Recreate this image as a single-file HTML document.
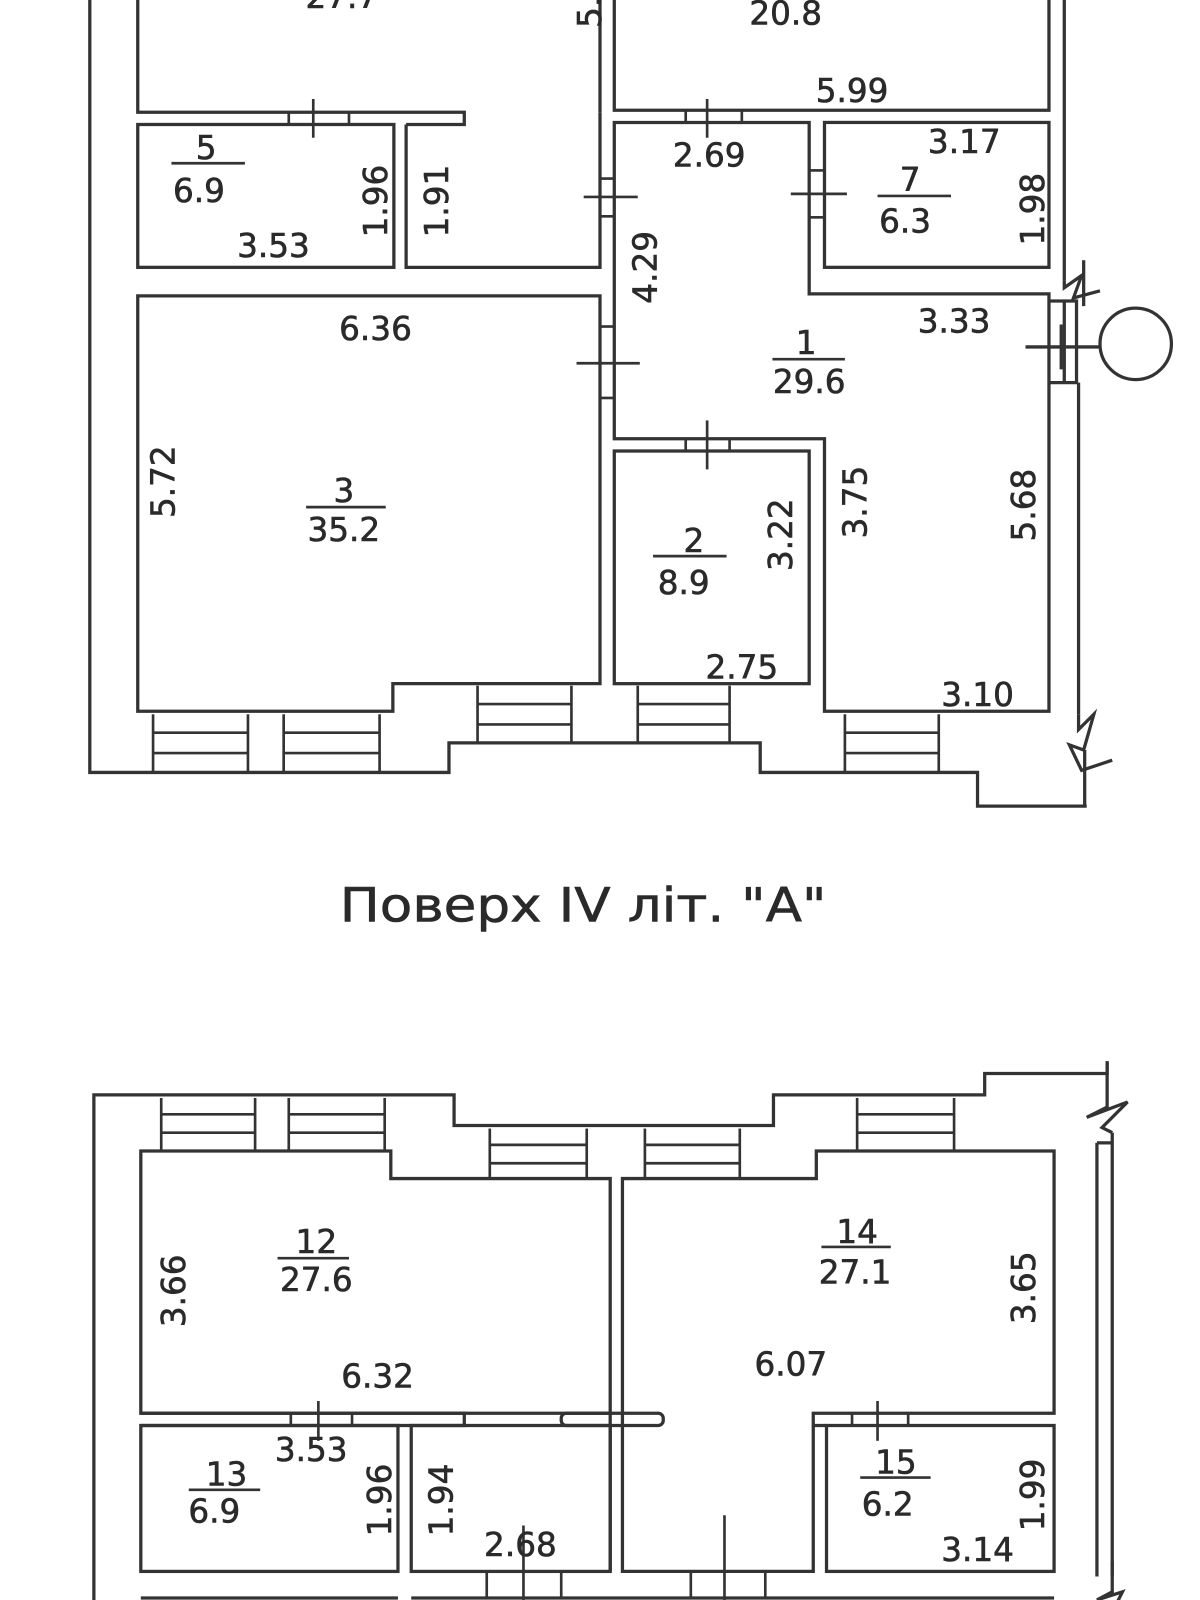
<!DOCTYPE html>
<html><head><meta charset="utf-8"><style>
html,body{margin:0;padding:0;background:#fff}
svg{display:block}
text{font-family:"DejaVu Sans","Liberation Sans",sans-serif;font-size:32px;fill:#2a2a2a;stroke:#2a2a2a;stroke-width:0.6}
.t{font-family:"DejaVu Sans","Liberation Sans",sans-serif;font-size:46px;fill:#2a2a2a;stroke:#2a2a2a;stroke-width:0.6}
</style></head><body>
<svg width="1200" height="1600" viewBox="0 0 1200 1600" xmlns="http://www.w3.org/2000/svg">
<g transform="scale(1.0204)">
<g fill="none" stroke="#333" stroke-width="3.2" stroke-linejoin="miter">
<!-- TOP PLAN -->
<polyline points="88,0 88,757 440,757 440,728 745,728 745,757 958,757 958,790 1065,790"/>
<polyline points="135,0 135,110 455,110 455,122 398,122"/>
<line x1="588" y1="0" x2="588" y2="110"/>
<polyline points="602,0 602,108 1028,108 1028,0"/>
<line x1="1043" y1="0" x2="1043" y2="275"/>
<rect x="135" y="122" width="251" height="140"/>
<polyline points="398,122 398,262 588,262 588,110"/>
<rect x="808" y="120" width="220" height="142"/>
<polygon points="602,120 793,120 793,288 1028,288 1028,697 808,697 808,430 602,430"/>
<rect x="602" y="442" width="191" height="228"/>
<polygon points="135,290 588,290 588,670 385,670 385,697 135,697"/>
<polyline points="1028,295 1055,295 1055,375 1028,375"/>
<line x1="1043" y1="295" x2="1043" y2="375"/>
<line x1="1057" y1="375" x2="1057" y2="700"/>
<polyline points="1057,700 1057,715 1072,700 1062,735 1048,730 1060,755 1090,745"/>
<line x1="1063" y1="735" x2="1063" y2="790"/>
<polyline points="1043,275 1043,282 1060,270 1052,292 1078,285"/>
<line x1="1062" y1="255" x2="1062" y2="300"/>
<circle cx="1113" cy="337" r="35"/>
<line x1="1005" y1="340" x2="1078" y2="340"/>
<line x1="1040" y1="318" x2="1040" y2="362"/>
<g stroke-width="2.6">
<line x1="150" y1="700" x2="150" y2="757"/><line x1="243" y1="700" x2="243" y2="757"/>
<line x1="150" y1="718" x2="243" y2="718"/><line x1="150" y1="738" x2="243" y2="738"/>
<line x1="278" y1="700" x2="278" y2="757"/><line x1="372" y1="700" x2="372" y2="757"/>
<line x1="278" y1="718" x2="372" y2="718"/><line x1="278" y1="738" x2="372" y2="738"/>
<line x1="468" y1="672" x2="468" y2="728"/><line x1="560" y1="672" x2="560" y2="728"/>
<line x1="468" y1="690" x2="560" y2="690"/><line x1="468" y1="710" x2="560" y2="710"/>
<line x1="625" y1="672" x2="625" y2="728"/><line x1="715" y1="672" x2="715" y2="728"/>
<line x1="625" y1="690" x2="715" y2="690"/><line x1="625" y1="710" x2="715" y2="710"/>
<line x1="828" y1="700" x2="828" y2="757"/><line x1="920" y1="700" x2="920" y2="757"/>
<line x1="828" y1="718" x2="920" y2="718"/><line x1="828" y1="738" x2="920" y2="738"/>
<line x1="307" y1="97" x2="307" y2="135"/><line x1="283" y1="110" x2="283" y2="122"/><line x1="342" y1="110" x2="342" y2="122"/>
<line x1="693" y1="97" x2="693" y2="135"/><line x1="672" y1="108" x2="672" y2="120"/><line x1="727" y1="108" x2="727" y2="120"/>
<line x1="572" y1="193" x2="625" y2="193"/><line x1="588" y1="175" x2="602" y2="175"/><line x1="588" y1="212" x2="602" y2="212"/>
<line x1="565" y1="356" x2="627" y2="356"/><line x1="588" y1="320" x2="602" y2="320"/><line x1="588" y1="390" x2="602" y2="390"/>
<line x1="775" y1="190" x2="830" y2="190"/><line x1="793" y1="167" x2="808" y2="167"/><line x1="793" y1="213" x2="808" y2="213"/>
<line x1="693" y1="412" x2="693" y2="460"/><line x1="672" y1="430" x2="672" y2="442"/><line x1="715" y1="430" x2="715" y2="442"/>
</g>
<!-- BOTTOM PLAN -->
<polyline points="92,1600 92,1073 445,1073 445,1103 758,1103 758,1073 965,1073 965,1052 1085,1052 1085,1040"/>
<polyline points="1085,1040 1085,1085 1065,1095 1105,1080 1080,1105 1090,1110"/>
<line x1="1090" y1="1110" x2="1090" y2="1545"/>
<line x1="1075" y1="1120" x2="1090" y2="1120"/>
<line x1="1075" y1="1120" x2="1075" y2="1545"/>
<polyline points="1090,1530 1090,1560 1075,1568 1100,1560 1085,1590"/>
<polygon points="138,1128 383,1128 383,1155 598,1155 598,1385 138,1385"/>
<polygon points="610,1155 800,1155 800,1128 1033,1128 1033,1385 797,1385 797,1540 610,1540"/>
<line x1="598" y1="1385" x2="598" y2="1540"/>
<polyline points="138,1385 455,1385 455,1397 138,1397"/>
<rect x="550" y="1385" width="100" height="12" rx="5"/>
<rect x="138" y="1397" width="252" height="143"/>
<rect x="403" y="1397" width="195" height="143"/>
<rect x="810" y="1397" width="223" height="143"/>
<line x1="797" y1="1397" x2="810" y2="1397"/>
<line x1="138" y1="1566" x2="390" y2="1566"/>
<line x1="403" y1="1566" x2="1033" y2="1566"/>
<g stroke-width="2.6">
<line x1="158" y1="1076" x2="158" y2="1128"/><line x1="250" y1="1076" x2="250" y2="1128"/>
<line x1="158" y1="1092" x2="250" y2="1092"/><line x1="158" y1="1110" x2="250" y2="1110"/>
<line x1="283" y1="1076" x2="283" y2="1128"/><line x1="377" y1="1076" x2="377" y2="1128"/>
<line x1="283" y1="1092" x2="377" y2="1092"/><line x1="283" y1="1110" x2="377" y2="1110"/>
<line x1="480" y1="1106" x2="480" y2="1155"/><line x1="575" y1="1106" x2="575" y2="1155"/>
<line x1="480" y1="1122" x2="575" y2="1122"/><line x1="480" y1="1140" x2="575" y2="1140"/>
<line x1="632" y1="1106" x2="632" y2="1155"/><line x1="725" y1="1106" x2="725" y2="1155"/>
<line x1="632" y1="1122" x2="725" y2="1122"/><line x1="632" y1="1140" x2="725" y2="1140"/>
<line x1="840" y1="1076" x2="840" y2="1128"/><line x1="935" y1="1076" x2="935" y2="1128"/>
<line x1="840" y1="1092" x2="935" y2="1092"/><line x1="840" y1="1110" x2="935" y2="1110"/>
<line x1="312" y1="1373" x2="312" y2="1412"/><line x1="285" y1="1385" x2="285" y2="1397"/><line x1="345" y1="1385" x2="345" y2="1397"/>
<line x1="860" y1="1373" x2="860" y2="1412"/><line x1="835" y1="1385" x2="835" y2="1397"/><line x1="890" y1="1385" x2="890" y2="1397"/>
<line x1="513" y1="1495" x2="513" y2="1600"/><line x1="477" y1="1540" x2="477" y2="1566"/><line x1="550" y1="1540" x2="550" y2="1566"/>
<line x1="710" y1="1485" x2="710" y2="1600"/><line x1="677" y1="1540" x2="677" y2="1566"/><line x1="750" y1="1540" x2="750" y2="1566"/>
<line x1="168" y1="160" x2="240" y2="160"/>
<line x1="860" y1="192" x2="932" y2="192"/>
<line x1="757" y1="352" x2="828" y2="352"/>
<line x1="300" y1="497" x2="378" y2="497"/>
<line x1="640" y1="545" x2="712" y2="545"/>
<line x1="272" y1="1233" x2="342" y2="1233"/>
<line x1="805" y1="1222" x2="873" y2="1222"/>
<line x1="185" y1="1460" x2="255" y2="1460"/>
<line x1="843" y1="1448" x2="912" y2="1448"/>
</g>
</g>
<g text-anchor="middle">
<text x="335" y="8">27.7</text>
<text x="770" y="24">20.8</text>
<text x="835" y="100">5.99</text>
<text x="202" y="156">5</text><text x="195" y="198">6.9</text>
<text x="268" y="252">3.53</text>
<text x="695" y="163">2.69</text>
<text x="945" y="150">3.17</text>
<text x="892" y="187">7</text><text x="887" y="228">6.3</text>
<text x="935" y="326">3.33</text>
<text x="368" y="333">6.36</text>
<text x="790" y="347">1</text><text x="793" y="385">29.6</text>
<text x="337" y="492">3</text><text x="337" y="530">35.2</text>
<text x="680" y="541">2</text><text x="670" y="582">8.9</text>
<text x="727" y="665">2.75</text>
<text x="958" y="692">3.10</text>
<text x="310" y="1228">12</text><text x="310" y="1265">27.6</text>
<text x="840" y="1218">14</text><text x="838" y="1258">27.1</text>
<text x="370" y="1360">6.32</text>
<text x="775" y="1348">6.07</text>
<text x="305" y="1432">3.53</text>
<text x="222" y="1456">13</text><text x="210" y="1492">6.9</text>
<text x="510" y="1525">2.68</text>
<text x="878" y="1444">15</text><text x="870" y="1485">6.2</text>
<text x="958" y="1530">3.14</text>
<text transform="translate(578,12) rotate(-90)" dy="0.35em">5.</text>
<text transform="translate(368,197) rotate(-90)" dy="0.35em">1.96</text>
<text transform="translate(428,197) rotate(-90)" dy="0.35em">1.91</text>
<text transform="translate(1012,205) rotate(-90)" dy="0.35em">1.98</text>
<text transform="translate(632,262) rotate(-90)" dy="0.35em">4.29</text>
<text transform="translate(160,472) rotate(-90)" dy="0.35em">5.72</text>
<text transform="translate(838,492) rotate(-90)" dy="0.35em">3.75</text>
<text transform="translate(1003,495) rotate(-90)" dy="0.35em">5.68</text>
<text transform="translate(765,524) rotate(-90)" dy="0.35em">3.22</text>
<text transform="translate(170,1265) rotate(-90)" dy="0.35em">3.66</text>
<text transform="translate(1003,1262) rotate(-90)" dy="0.35em">3.65</text>
<text transform="translate(372,1470) rotate(-90)" dy="0.35em">1.96</text>
<text transform="translate(432,1470) rotate(-90)" dy="0.35em">1.94</text>
<text transform="translate(1012,1465) rotate(-90)" dy="0.35em">1.99</text>
</g>
<text class="t" x="333" y="903" textLength="477" lengthAdjust="spacingAndGlyphs">Поверх IV літ. "А"</text>
</g>
</svg>
</body></html>
